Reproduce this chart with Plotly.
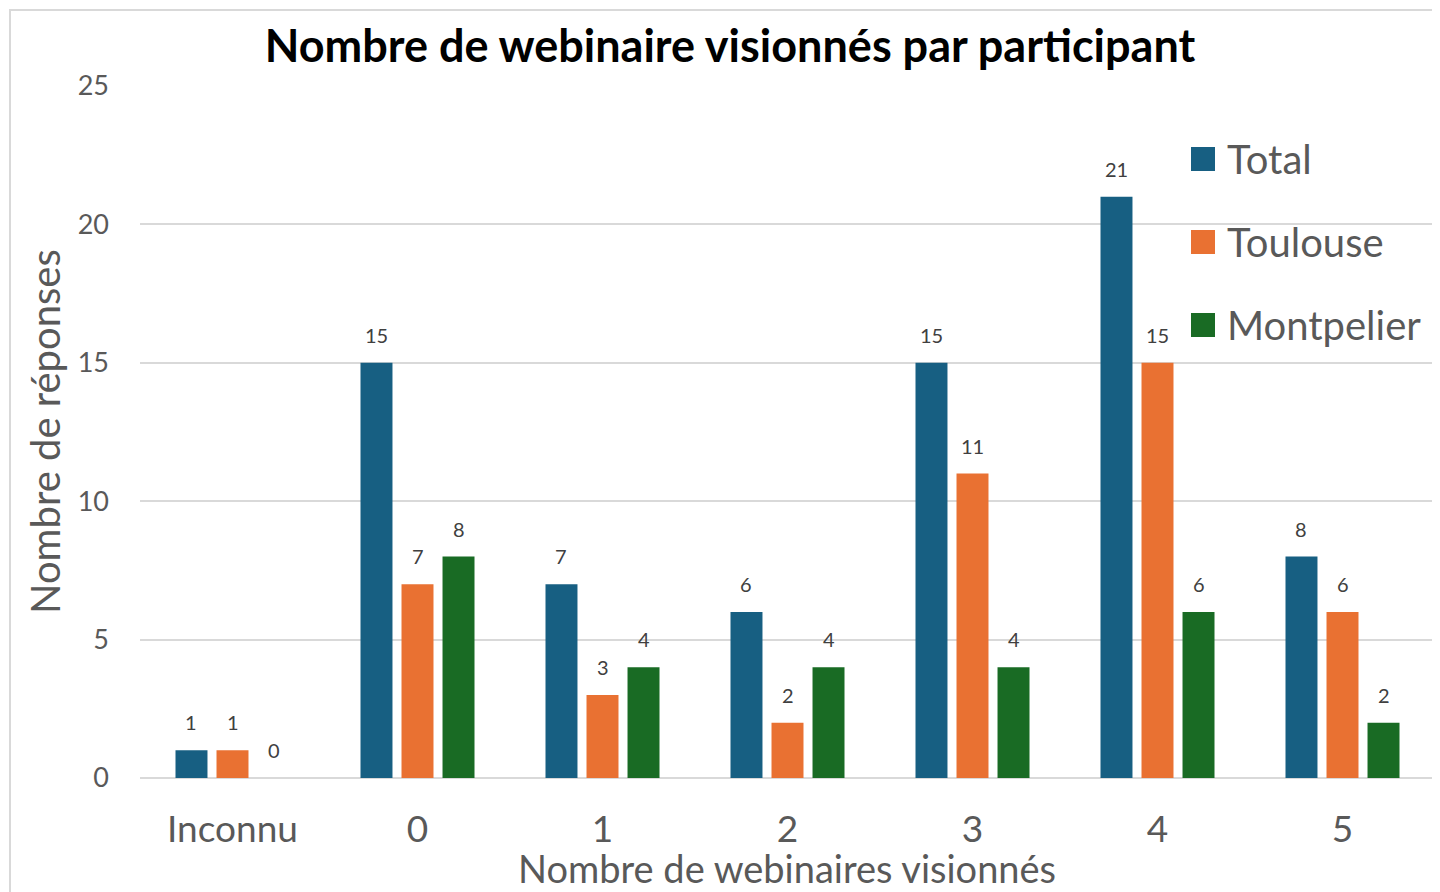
import plotly.graph_objects as go

categories = ["Inconnu", "0", "1", "2", "3", "4", "5"]
total = [1, 15, 7, 6, 15, 21, 8]
toulouse = [1, 7, 3, 2, 11, 15, 6]
montpelier = [0, 8, 4, 4, 4, 6, 2]

series_names = ["Total", "Toulouse", "Montpelier"]
series_values = [total, toulouse, montpelier]
series_colors = ["#175f82", "#e97132", "#196b24"]

FONT = "Lato"
W, H = 1440, 892
OFF = 8  # page body margin
L, T = 140 - OFF, 86 - OFF
R = W - (1435 - OFF)
B = H - (778 - OFF)
pw = W - L - R
ph = H - T - B

BARGAP = 0.335
slot_px = pw / len(categories) * (1 - BARGAP) / len(series_names)


def px_x(x):  # reference pixel -> paper x
    return (x - OFF - L) / pw


def px_y(y):  # reference pixel -> paper y
    return (T + ph - (y - OFF)) / ph


fig = go.Figure()
annotations = []
for k, (name, vals, col) in enumerate(zip(series_names, series_values, series_colors)):
    fig.add_trace(go.Bar(
        x=categories, y=vals, name=name,
        marker=dict(color=col, line=dict(width=0)),
        showlegend=False,
    ))
    for ci, v in enumerate(vals):
        annotations.append(dict(text=str(v), x=ci, y=v, xref="x", yref="y",
                                xshift=(k - 1) * slot_px, yshift=14,
                                xanchor="center", yanchor="bottom", showarrow=False,
                                font=dict(family=FONT, size=20, color="#404040")))

shapes = [dict(type="rect", xref="paper", yref="paper",
               x0=px_x(10), x1=px_x(W + 30), y0=px_y(H + 30), y1=px_y(10),
               line=dict(color="#d9d9d9", width=2), fillcolor="rgba(0,0,0,0)", layer="below")]
annotations += [
    dict(text="Nombre de réponses", xref="paper", yref="paper",
         x=px_x(45), y=px_y(432), xanchor="center", yanchor="middle",
         textangle=-90, showarrow=False, font=dict(size=40, color="#595959")),
    dict(text="Nombre de webinaires visionnés", xref="paper", yref="paper",
         x=px_x(787), y=px_y(868), xanchor="center", yanchor="middle",
         showarrow=False, font=dict(size=38, color="#595959")),
]
legend_tops = [147, 230, 313]
for name, col, top in zip(series_names, series_colors, legend_tops):
    shapes.append(dict(type="rect", xref="paper", yref="paper",
                       x0=px_x(1191), x1=px_x(1215), y0=px_y(top + 24), y1=px_y(top),
                       line=dict(width=0), fillcolor=col))
    annotations.append(dict(text=name, xref="paper", yref="paper",
                            x=px_x(1225), y=px_y(top + 12), xanchor="left", yanchor="middle",
                            showarrow=False, font=dict(size=40, color="#595959")))

fig.update_layout(
    width=W, height=H,
    margin=dict(l=L, r=R, t=T, b=B),
    paper_bgcolor="white", plot_bgcolor="white",
    barmode="group", bargap=BARGAP, bargroupgap=0.22,
    font=dict(family=FONT, color="#595959"),
    title=dict(text="<b>Nombre de webinaire visionnés par participant</b>",
               x=(730 - OFF) / W, xanchor="center", y=1 - (46 - OFF) / H, yanchor="middle",
               font=dict(family=FONT, size=45, color="black")),
    xaxis=dict(type="category", showgrid=False, showline=False, ticks="",
               tickfont=dict(size=37, color="#595959"), ticklabelstandoff=26),
    yaxis=dict(range=[0, 25], dtick=5, showgrid=True, gridcolor="#d9d9d9", gridwidth=1.5,
               zeroline=True, zerolinecolor="#d9d9d9", zerolinewidth=2,
               tickfont=dict(size=27, color="#595959"), ticklabelstandoff=30),
    showlegend=False,
    shapes=shapes,
    annotations=annotations,
)

fig.write_html("out.html")
